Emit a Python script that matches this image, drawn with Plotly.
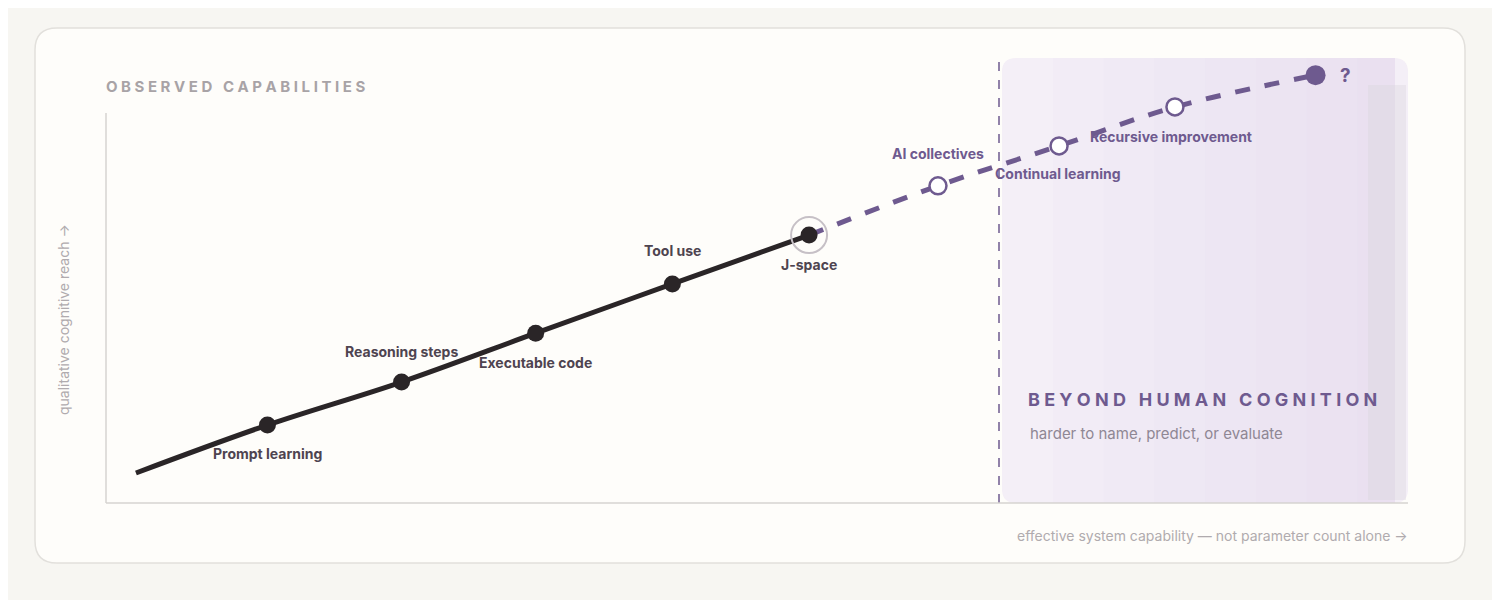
import plotly.graph_objects as go

# Data
obs_labels = ["", "Prompt learning", "Reasoning steps", "Executable code", "Tool use", "J-space"]
obs_x = [2.3, 12.4, 22.7, 33.0, 43.5, 54.0]
obs_y = [6.7, 17.4, 27.0, 37.9, 48.9, 59.8]
fut_labels = ["J-space", "AI collectives", "Continual learning", "Recursive improvement", "?"]
fut_x = [54.0, 63.9, 73.2, 82.1, 92.9]
fut_y = [59.8, 70.8, 79.7, 88.4, 95.5]

L, R, T, B = 106, 1408, 55, 503
OFF = 8
def px(x): return (x - L) / (R - L)
def py(y): return (B - y) / (B - T)

DARK = "#2a2527"
TXT = "#4e4450"
PURP = "#6e5a8f"
GRAY = "#a8a3a6"
FONT = "Inter"

def rrect(x0, y0, x1, y1, r):
    P = lambda x, y: "%.5f,%.5f" % (px(x), py(y))
    return ("M" + P(x0 + r, y0) + " L" + P(x1 - r, y0) + " Q" + P(x1, y0) + " " + P(x1, y0 + r) +
            " L" + P(x1, y1 - r) + " Q" + P(x1, y1) + " " + P(x1 - r, y1) +
            " L" + P(x0 + r, y1) + " Q" + P(x0, y1) + " " + P(x0, y1 - r) +
            " L" + P(x0, y0 + r) + " Q" + P(x0, y0) + " " + P(x0 + r, y0) + " Z")

shapes = [
    dict(type="path", xref="paper", yref="paper", path=rrect(35, 28, 1465, 563, 22),
         fillcolor="#fefdfa", line=dict(color="#e2e0dc", width=1.5), layer="below"),
]
# gradient-ish lavender region
steps = 8
for i in range(steps):
    x0 = 1002 + i * (1408 - 1002) / steps
    shapes.append(dict(type="path", xref="paper", yref="paper",
                       path=rrect(x0, 58, 1408, 503, 14) if i == 0 else
                       "M%.5f,%.5f L%.5f,%.5f L%.5f,%.5f L%.5f,%.5f Z" % (px(x0), py(58), px(1395), py(58), px(1395), py(503), px(x0), py(503)),
                       fillcolor="rgba(225,212,240,%.3f)" % (0.35 if i == 0 else 0.06),
                       line=dict(width=0), layer="below"))
shapes += [
    dict(type="rect", xref="paper", yref="paper", x0=px(1368), x1=px(1406), y0=py(500), y1=py(85),
         fillcolor="rgba(215,212,218,0.35)", line=dict(width=0), layer="below"),
    dict(type="line", xref="paper", yref="paper", x0=px(999), x1=px(999), y0=py(503), y1=py(58),
         line=dict(color=PURP, width=1.5, dash="dash")),
    dict(type="line", xref="paper", yref="paper", x0=0, x1=0, y0=0, y1=py(113),
         line=dict(color="#d6d3d0", width=1.5)),
    dict(type="line", xref="paper", yref="paper", x0=0, x1=1, y0=0, y1=0,
         line=dict(color="#d6d3d0", width=1.5)),
]

fig = go.Figure()
fig.add_trace(go.Scatter(x=fut_x, y=fut_y, mode="lines", line=dict(color=PURP, width=5, dash="dash", shape="spline"),
                         hoverinfo="skip"))
fig.add_trace(go.Scatter(x=obs_x, y=obs_y, mode="lines", line=dict(color=DARK, width=5, shape="spline", smoothing=1.0),
                         hoverinfo="skip"))
fig.add_trace(go.Scatter(x=obs_x[1:], y=obs_y[1:], mode="markers", marker=dict(color=DARK, size=17)))
fig.add_trace(go.Scatter(x=[obs_x[-1]], y=[obs_y[-1]], mode="markers",
                         marker=dict(color="rgba(0,0,0,0)", size=36, line=dict(color="#c6c0c6", width=2))))
fig.add_trace(go.Scatter(x=fut_x[1:4], y=fut_y[1:4], mode="markers",
                         marker=dict(color="white", size=17, line=dict(color=PURP, width=2.5))))
fig.add_trace(go.Scatter(x=[fut_x[4]], y=[fut_y[4]], mode="markers", marker=dict(color=PURP, size=20)))

ann = []
def lab(x, y, t, color, dx, dy, anchor="center", size=14):
    ann.append(dict(x=x, y=y, xref="x", yref="y", text="<b>%s</b>" % t, showarrow=False,
                    xshift=dx, yshift=dy, xanchor=anchor, font=dict(family=FONT, size=size, color=color)))
lab(obs_x[1], obs_y[1], obs_labels[1], TXT, 0, -28)
lab(obs_x[2], obs_y[2], obs_labels[2], TXT, 0, 31)
lab(obs_x[3], obs_y[3], obs_labels[3], TXT, 0, -29)
lab(obs_x[4], obs_y[4], obs_labels[4], TXT, 0, 33)
lab(obs_x[5], obs_y[5], obs_labels[5], TXT, 0, -29)
lab(fut_x[1], fut_y[1], fut_labels[1], PURP, 0, 32)
lab(fut_x[2], fut_y[2], fut_labels[2], PURP, -66, -28, "left")
lab(fut_x[3], fut_y[3], fut_labels[3], PURP, -87, -30, "left")
lab(fut_x[4], fut_y[4], fut_labels[4], PURP, 22, 0, "left", 19)

def ptxt(x, y, t, size, color, anchor="left", angle=0, bold=False):
    ann.append(dict(x=px(x), y=py(y), xref="paper", yref="paper", text=("<b>%s</b>" % t) if bold else t,
                    showarrow=False, xanchor=anchor, yanchor="middle", textangle=angle,
                    font=dict(family=FONT, size=size, color=color)))
ptxt(104, 86, "O B S E R V E D   C A P A B I L I T I E S", 15, GRAY, bold=True)
ptxt(1026, 399, "B E Y O N D   H U M A N   C O G N I T I O N", 18, PURP, bold=True)
ptxt(1028, 433, "harder to name, predict, or evaluate", 15, "#8f8794")
ptxt(1410, 535, "effective system capability — not parameter count alone →", 14, "#b0abae", anchor="right")
ptxt(63, 320, "qualitative cognitive reach →", 14, "#b0abae", anchor="center", angle=-90)

fig.update_layout(width=1500, height=600, margin=dict(l=L - OFF, r=1500 - R + OFF, t=T - OFF, b=600 - B + OFF),
                  paper_bgcolor="#f7f6f2", plot_bgcolor="rgba(0,0,0,0)", showlegend=False,
                  shapes=shapes, annotations=ann,
                  xaxis=dict(range=[0, 100], visible=False, fixedrange=True),
                  yaxis=dict(range=[0, 100], visible=False, fixedrange=True))
fig.write_html("out.html")
